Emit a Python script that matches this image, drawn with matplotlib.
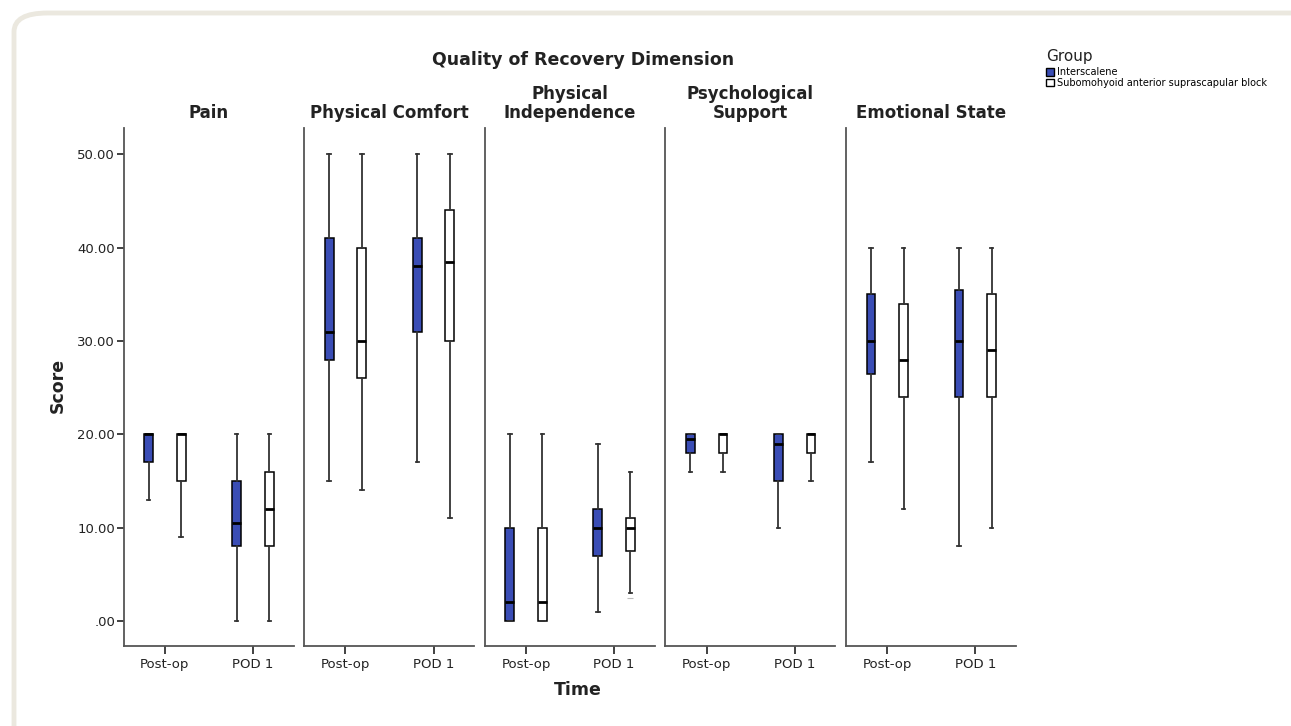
import matplotlib
matplotlib.use("Agg")
import matplotlib.pyplot as plt
from matplotlib.patches import Patch, FancyBboxPatch

# ---------------- data ----------------
dimensions = ["Pain", "Physical Comfort", "Physical\nIndependence",
              "Psychological\nSupport", "Emotional State"]
times = ["Post-op", "POD 1"]
groups = ["Interscalene", "Subomohyoid anterior suprascapular block"]

# (whislo, q1, median, q3, whishi) for [Post-op, POD 1]
interscalene = {
    "Pain": [(13, 17, 20, 20, 20), (0, 8, 10.5, 15, 20)],
    "Physical Comfort": [(15, 28, 31, 41, 50), (17, 31, 38, 41, 50)],
    "Physical\nIndependence": [(0, 0, 2, 10, 20), (1, 7, 10, 12, 19)],
    "Psychological\nSupport": [(16, 18, 19.5, 20, 20), (10, 15, 19, 20, 20)],
    "Emotional State": [(17, 26.5, 30, 35, 40), (8, 24, 30, 35.5, 40)],
}
subomohyoid = {
    "Pain": [(9, 15, 20, 20, 20), (0, 8, 12, 16, 20)],
    "Physical Comfort": [(14, 26, 30, 40, 50), (11, 30, 38.5, 44, 50)],
    "Physical\nIndependence": [(0, 0, 2, 10, 20), (3, 7.5, 10, 11, 16)],
    "Psychological\nSupport": [(16, 18, 20, 20, 20), (15, 18, 20, 20, 20)],
    "Emotional State": [(12, 24, 28, 34, 40), (10, 24, 29, 35, 40)],
}
subomohyoid_outliers = {"Physical\nIndependence": [[], [2.5]]}

y_ticks = [0, 10, 20, 30, 40, 50]
y_tick_labels = [".00", "10.00", "20.00", "30.00", "40.00", "50.00"]

# ---------------- style ----------------
W, H = 1291, 726
BLUE = "#3a4db5"
AXC = "#555555"
TXT = "#222222"

fig = plt.figure(figsize=(W / 100, H / 100), dpi=100)
fig.patch.set_facecolor("white")

# rounded light frame
frame = FancyBboxPatch((14 / W, -0.2), 1.2, 1 - 13 / H + 0.2,
                       boxstyle="round,pad=0,rounding_size=0.026",
                       transform=fig.transFigure, facecolor="none",
                       edgecolor="#ebe8df", linewidth=3.5, zorder=0)
fig.patches.append(frame)

left0 = 123.5
step = 180.6
ax_w = 170
ax_bottom = 80
ax_top = 128
offset = 0.185
bw = 0.10

def stats_from(t, fl=None):
    lo, q1, med, q3, hi = t
    return dict(whislo=lo, q1=q1, med=med, q3=q3, whishi=hi,
                fliers=fl if fl else [])

for i, dim in enumerate(dimensions):
    ax = fig.add_axes([(left0 + i * step) / W, ax_bottom / H,
                       ax_w / W, (H - ax_top - ax_bottom) / H])
    for g, (data, color) in enumerate([(interscalene, BLUE), (subomohyoid, "white")]):
        outl = subomohyoid_outliers.get(dim, [[], []]) if g == 1 else [[], []]
        st = [stats_from(data[dim][k], outl[k]) for k in range(len(times))]
        pos = [k + (-offset if g == 0 else offset) for k in range(len(times))]
        ax.bxp(st, positions=pos, widths=bw, patch_artist=True,
               showfliers=True,
               boxprops=dict(facecolor=color, edgecolor="black", linewidth=1.1),
               medianprops=dict(color="black", linewidth=2.0),
               whiskerprops=dict(color="#333333", linewidth=1.3),
               capprops=dict(color="#333333", linewidth=1.3),
               capwidths=0.04,
               flierprops=dict(marker="_", markersize=4, markeredgecolor="#bbbbbb",
                               markeredgewidth=0.8))
    ax.set_xlim(-0.47, 1.46)
    ax.set_ylim(-2.68, 52.8)
    for s in ["top", "right"]:
        ax.spines[s].set_visible(False)
    for s in ["left", "bottom"]:
        ax.spines[s].set_color(AXC)
        ax.spines[s].set_linewidth(1.3)
    ax.set_xticks(range(len(times)))
    ax.set_xticklabels(times, fontsize=9.5, color=TXT)
    ax.tick_params(axis="x", length=6, width=1.3, color="#333333", pad=2.5)
    if i == 0:
        ax.set_yticks(y_ticks)
        ax.set_yticklabels(y_tick_labels, fontsize=9.5, color=TXT)
        ax.tick_params(axis="y", length=5, width=1.3, color="#333333", pad=1)
    else:
        ax.set_yticks([])
    ax.set_title(dim, fontsize=12, fontweight="bold", color=TXT, pad=7,
                 linespacing=1.1)

fig.text(583 / W, 1 - 60 / H, "Quality of Recovery Dimension", ha="center",
         va="center", fontsize=12.5, fontweight="bold", color=TXT)
fig.text(58 / W, 1 - 385 / H, "Score", rotation=90, ha="center", va="center",
         fontsize=12.5, fontweight="bold", color=TXT)
fig.text(578 / W, 1 - 690 / H, "Time", ha="center", va="center",
         fontsize=12.5, fontweight="bold", color=TXT)

# legend
fig.text(1046 / W, 1 - 57 / H, "Group", ha="left", va="center",
         fontsize=11, color=TXT)
handles = [Patch(facecolor=BLUE, edgecolor="black", linewidth=1.0),
           Patch(facecolor="white", edgecolor="black", linewidth=1.0)]
leg = fig.legend(handles, groups, loc="upper left",
                 bbox_to_anchor=(1046 / W, 1 - 67 / H), frameon=False,
                 fontsize=7, handlelength=0.85, handleheight=0.85,
                 handletextpad=0.3, labelspacing=0.1, borderaxespad=0,
                 borderpad=0)

fig.savefig("out.png", dpi=100, facecolor="white")
